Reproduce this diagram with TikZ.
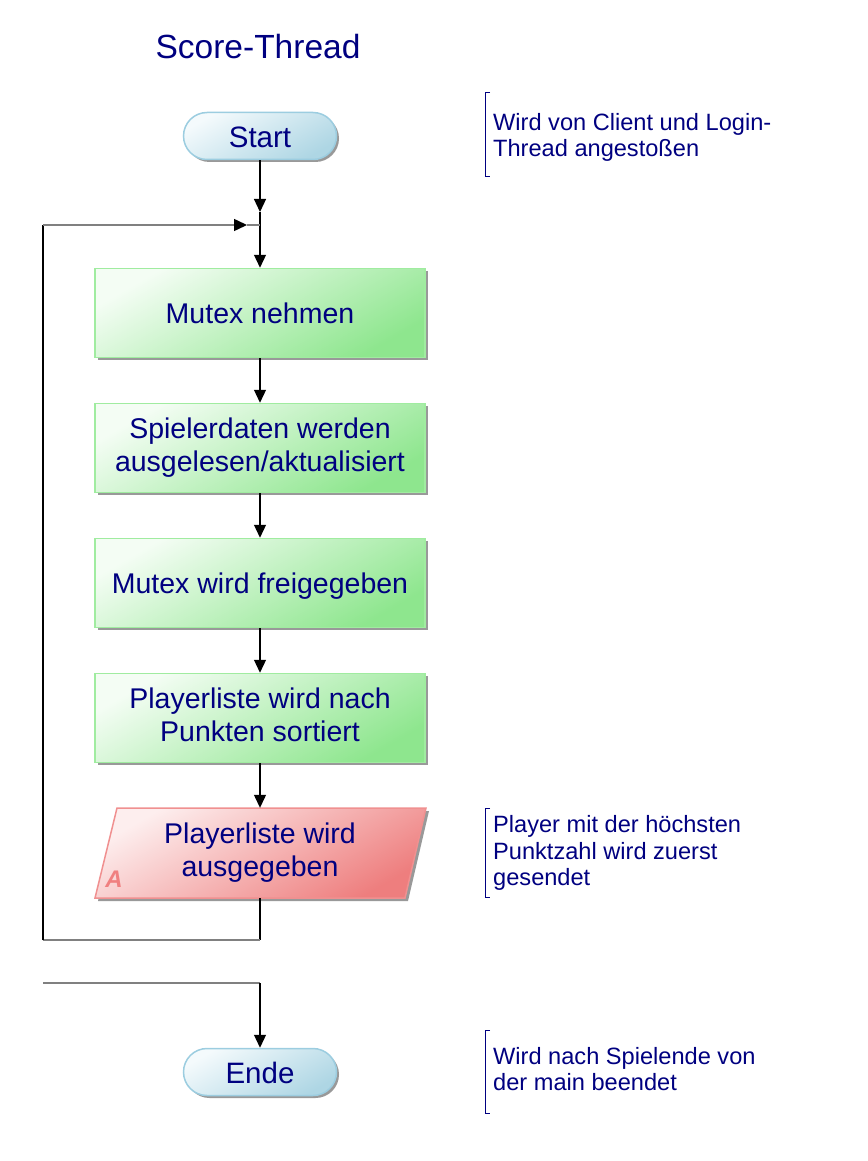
\documentclass[tikz,border=0pt]{standalone}
\usepackage{fontspec}
\setmainfont{Liberation Sans}
\usetikzlibrary{arrows.meta,shapes.misc,shadows,calc}
\definecolor{navy}{RGB}{0,0,128}
\definecolor{ga}{HTML}{F4FDF4}
\definecolor{gb}{HTML}{8EE68E}
\definecolor{gborder}{HTML}{A0ECA0}
\definecolor{pilla}{HTML}{F4FAFC}
\definecolor{pillb}{HTML}{AED6E4}
\definecolor{pillborder}{HTML}{9CCDE0}
\definecolor{ra}{HTML}{FDEEEE}
\definecolor{rb}{HTML}{EE7E7E}
\definecolor{rborder}{HTML}{F09090}
\definecolor{alab}{HTML}{F08080}
\definecolor{hline}{HTML}{808080}
\newcommand\lnstrutA{\rule{0pt}{\dimexpr0.905em+2pt\relax}}
\newcommand\lnstrutB{\rule[-0.212em]{0pt}{0.212em}}
\tikzset{
  shad/.style={drop shadow={shadow xshift=2.5pt,shadow yshift=-2.5pt,fill=black!40,opacity=1}},
  struts/.style={execute at begin node=\lnstrutA, execute at end node=\lnstrutB},
  pill/.style={rounded rectangle, minimum width=153pt, minimum height=47pt, inner sep=0pt,
    draw=pillborder, line width=1.5pt, top color=pilla, bottom color=pillb, shading angle=30, shad,
    font=\fontsize{29.5}{33}\selectfont, text=navy, struts},
  proc/.style={rectangle, minimum width=330pt, minimum height=89pt, inner sep=0pt,
    draw=gborder, line width=1.5pt, top color=ga, bottom color=gb, shading angle=30, shad,
    font=\fontsize{28.5}{33}\selectfont, text=navy, align=center, struts},
  ptext/.style={rectangle, minimum width=331pt, minimum height=90pt, inner sep=0pt,
    font=\fontsize{28.5}{33}\selectfont, text=navy, align=center, struts},
  note/.style={anchor=west, align=left, inner sep=0pt, font=\fontsize{23.6}{26.5}\selectfont, text=navy, struts},
  bracket/.style={draw=navy, line width=1pt},
  tip/.style={-{Triangle[length=13pt,width=12pt,color=black]}},
  arr/.style={tip, line width=1.2pt, black},
  vline/.style={line width=1.2pt, black},
  hl/.style={line width=1.5pt, hline},
}
\begin{document}
\begin{tikzpicture}[x=1pt,y=-1pt]
\useasboundingbox (0,0) rectangle (867,1161);

% title
\node[font=\fontsize{33.5}{36}\selectfont, text=navy] (title) at (258,47) {Score-Thread};

% nodes
\node[pill] (start) at (260,136) {Start};
\node[proc] (m1) at (260,313) {Mutex nehmen};
\node[proc] (m2) at (260,448) {Spielerdaten werden\\ausgelesen/aktualisiert};
\node[proc] (m3) at (260,583) {Mutex wird freigegeben};
\node[proc] (m4) at (260,718) {Playerliste wird nach\\Punkten sortiert};

% parallelogram
\fill[black!40] (120,811) -- (429,811) -- (408,901) -- (98,901) -- cycle;
\path[draw=rborder, line width=1.5pt, top color=ra, bottom color=rb, shading angle=30]
  (117,808) -- (426,808) -- (405,898) -- (95,898) -- cycle;
\node[ptext] (out) at (260,853) {Playerliste wird\\ausgegeben};
\node[font=\fontsize{24}{24}\selectfont\bfseries\itshape, text=alab] (alabel) at (114,879) {A};

\node[pill] (ende) at (260,1072) {Ende};

% connectors
\coordinate (ja) at (260,212);
\coordinate (j) at (260,225);
\coordinate (la) at (247,225);
\coordinate (l1) at (260,940);
\coordinate (l2) at (43,940);
\coordinate (l3) at (43,225);
\coordinate (e1) at (43,983);
\coordinate (e2) at (260,983);

\draw[arr] (start.south) -- (ja);
\draw[vline] (ja) -- (j);
\draw[arr] (j) -- (m1.north);
\draw[arr] (m1.south) -- (m2.north);
\draw[arr] (m2.south) -- (m3.north);
\draw[arr] (m3.south) -- (m4.north);
\draw[arr] (m4.south) -- (out.north);

\draw[vline] (out.south) -- (l1);
\draw[hl] (l1) -- (l2);
\draw[vline] (l2) -- (l3);
\draw[hl, tip] (l3) -- (la);
\draw[hl] (la) -- (j);

\draw[hl] (e1) -- (e2);
\draw[arr] (e2) -- (ende.north);

% notes
\draw[bracket] (490,93) -- (485,93) -- (485,177) -- (490,177);
\node[note] (n1) at (493,137.5) {Wird von Client und Login-\\Thread angestoßen};
\draw[bracket] (490,808) -- (485,808) -- (485,897) -- (490,897);
\node[note] (n2) at (493,853) {Player mit der höchsten\\Punktzahl wird zuerst\\gesendet};
\draw[bracket] (490,1030) -- (485,1030) -- (485,1113) -- (490,1113);
\node[note] (n3) at (493,1071.5) {Wird nach Spielende von\\der main beendet};
\end{tikzpicture}
\end{document}
